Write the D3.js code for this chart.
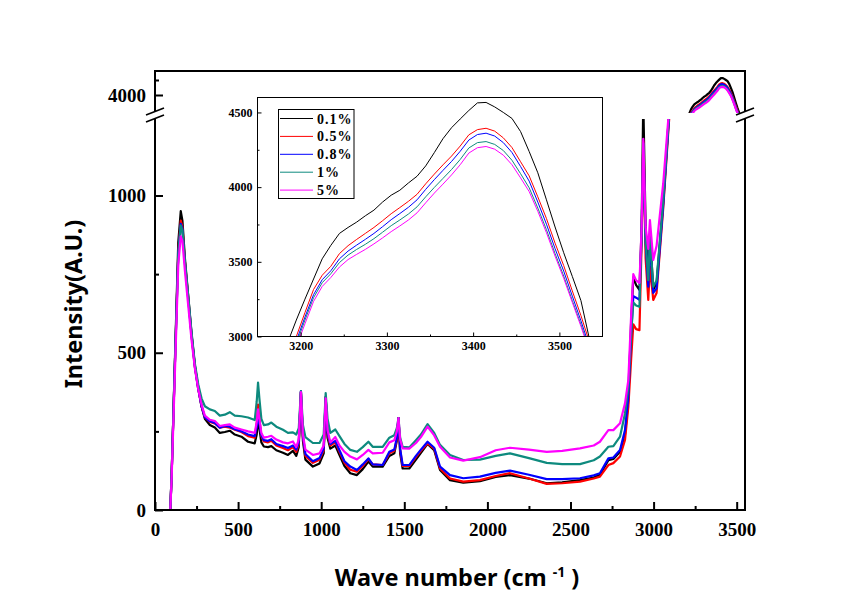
<!DOCTYPE html>
<html><head><meta charset="utf-8">
<script src="https://cdn.jsdelivr.net/npm/d3@7"></script>
<style>body{margin:0;background:#fff}svg{display:block}</style>
</head><body>
<svg id="chart" width="865" height="612"></svg>
<script>
// ---------------- data ----------------
const seriesNames = ["0.1%", "0.5%", "0.8%", "1%", "5%"];
const seriesColors = ["#000000", "#ff0000", "#0000ff", "#0e8a7e", "#ff00ff"];

const xTicksMain = [0, 500, 1000, 1500, 2000, 2500, 3000, 3500];
const yTicksLow = [0, 500, 1000];
const yTicksHigh = [4000];
const xTicksInset = [3200, 3300, 3400, 3500];
const yTicksInset = [3000, 3500, 4000, 4500];

// full spectrum (lower part of the broken axis)
const waveLow = [92,100,120,140,155,165,180,200,220,240,260,280,300,330,360,390,420,450,480,520,560,600,612,620,628,640,655,680,700,730,770,800,830,850,865,878,890,905,950,990,1015,1027,1038,1055,1085,1110,1140,1175,1215,1250,1284,1310,1370,1410,1440,1455,1465,1475,1490,1530,1570,1600,1640,1680,1715,1775,1855,1955,2050,2136,2250,2357,2450,2557,2640,2677,2728,2758,2798,2828,2848,2865,2878,2895,2915,2928,2938,2952,2968,2978,2998,3018,3058,3088,3100];
const low01 = [0,110,480,850,950,920,800,680,560,460,390,330,290,270,262,245,248,252,240,233,217,212,240,290,260,215,202,200,203,190,182,175,188,172,200,375,220,160,138,148,180,355,230,195,205,175,140,117,111,130,154,138,138,172,180,220,292,180,132,132,160,182,210,190,127,95,87,92,105,111,100,85,88,95,103,112,158,162,185,240,350,600,740,715,700,900,1300,900,720,880,700,720,980,1220,1300];
const low05 = [0,110,470,820,920,900,790,675,555,455,385,330,295,280,275,262,265,262,255,248,235,230,275,335,290,235,218,215,220,205,197,190,200,185,210,375,230,172,150,160,190,360,240,205,215,185,150,128,122,140,162,145,143,180,188,225,292,190,140,140,168,188,212,195,132,100,90,95,108,117,100,83,85,90,100,106,143,149,170,223,328,480,590,575,572,850,1170,800,668,774,668,690,960,1200,1290];
const low08 = [0,110,470,815,910,895,785,670,555,455,385,330,295,282,277,262,267,265,257,250,240,235,265,300,275,238,222,220,225,210,203,197,205,192,215,378,235,178,155,165,195,360,245,210,220,190,155,138,127,145,164,145,143,185,192,230,292,195,143,143,172,192,217,198,138,111,101,106,118,125,112,98,98,101,110,117,164,167,191,254,360,560,680,675,668,880,1165,850,710,850,690,705,970,1210,1300];
const low1  = [0,110,470,810,905,890,790,680,565,465,400,355,330,320,315,300,303,311,300,298,294,286,345,405,355,290,270,272,278,265,255,245,247,240,260,378,270,232,213,213,240,372,290,245,256,235,210,191,185,200,217,201,201,230,238,260,292,230,201,199,222,240,273,245,207,175,159,160,172,180,165,150,146,146,158,170,201,203,233,307,392,560,660,650,646,880,1165,860,731,869,710,730,986,1220,1300];
const low5  = [0,100,440,780,870,855,760,650,540,450,385,335,300,287,283,267,270,272,262,256,250,245,280,320,290,245,230,233,236,224,215,212,218,200,225,375,240,192,175,180,205,355,255,215,232,205,185,170,161,175,191,180,182,215,222,250,292,225,196,195,213,232,265,237,201,167,157,168,190,198,192,185,188,196,205,217,254,254,276,339,413,620,750,730,722,900,1180,900,830,922,795,840,1039,1240,1320];

// O-H band (upper part of the broken axis, and the inset)
const waveHigh = [3185,3195,3205,3215,3225,3235,3245,3255,3265,3275,3285,3295,3305,3315,3325,3335,3345,3355,3365,3375,3385,3395,3405,3415,3425,3435,3445,3455,3465,3475,3485,3495,3505,3515,3525,3535,3545];
const high01 = [2960,3110,3250,3385,3520,3610,3690,3730,3766,3808,3846,3900,3946,3979,4028,4073,4142,4231,4324,4398,4456,4513,4564,4567,4537,4500,4460,4372,4238,4096,3915,3733,3561,3402,3240,2980,2800];
const high05 = [2840,3000,3160,3315,3410,3470,3555,3608,3650,3690,3730,3775,3822,3863,3905,3952,4022,4087,4149,4208,4275,4350,4385,4394,4375,4330,4265,4170,4075,3935,3790,3625,3475,3305,3140,2960,2780];
const high08 = [2810,2970,3130,3280,3380,3440,3520,3572,3612,3650,3690,3735,3782,3823,3865,3915,3985,4050,4112,4172,4240,4315,4352,4361,4342,4298,4232,4138,4040,3900,3752,3588,3438,3270,3105,2930,2750];
const high1  = [2790,2950,3110,3260,3360,3420,3495,3545,3583,3617,3655,3698,3742,3780,3820,3868,3935,3998,4058,4118,4185,4262,4298,4305,4286,4245,4180,4090,3995,3860,3715,3555,3405,3240,3080,2905,2730];
const high5  = [2770,2930,3085,3235,3335,3395,3465,3515,3550,3583,3620,3660,3702,3740,3780,3828,3895,3960,4020,4082,4150,4228,4264,4272,4254,4214,4150,4062,3970,3838,3695,3538,3390,3228,3068,2895,2720];

const lowSeries = [low01, low05, low08, low1, low5];
const highSeries = [high01, high05, high08, high1, high5];

// ---------------- drawing ----------------
const svg = d3.select("#chart");
const L = 155, R = 745, T = 71, B = 510;
const x = d3.scaleLinear().domain([0, 3550]).range([L, R]);
const yLow = d3.scaleLinear().domain([0, 1240]).range([B, 120]);
const yHigh = d3.scaleLinear().domain([3400, 4800]).range([113, T]);

const defs = svg.append("defs");
defs.append("clipPath").attr("id", "clipLow").append("rect")
  .attr("x", L).attr("y", 119).attr("width", R - L).attr("height", B - 119);
defs.append("clipPath").attr("id", "clipHigh").append("rect")
  .attr("x", L).attr("y", T).attr("width", R - L).attr("height", 113 - T);

const tickFont = "'Liberation Serif','Times New Roman',serif";

// lines, main
const gLow = svg.append("g").attr("clip-path", "url(#clipLow)");
const gHigh = svg.append("g").attr("clip-path", "url(#clipHigh)");
lowSeries.forEach((s, i) => {
  const line = d3.line().x((d, j) => x(waveLow[j])).y(d => yLow(d));
  gLow.append("path").datum(s).attr("d", line).attr("fill", "none")
    .attr("stroke", seriesColors[i]).attr("stroke-width", 2.2).attr("stroke-linejoin", "round");
});
highSeries.forEach((s, i) => {
  const line = d3.line().x((d, j) => x(waveHigh[j])).y(d => yHigh(d));
  gHigh.append("path").datum(s).attr("d", line).attr("fill", "none")
    .attr("stroke", seriesColors[i]).attr("stroke-width", 2.2).attr("stroke-linejoin", "round");
});

// axes helper
function styleAxis(g, size) {
  g.select(".domain").remove();
  g.selectAll(".tick line").attr("stroke", "#000").attr("stroke-width", 2);
  g.selectAll(".tick text").attr("font-family", tickFont).attr("font-weight", "bold")
    .attr("font-size", size).attr("fill", "#000");
}

// x axis
const gx = svg.append("g").attr("transform", `translate(0,${B})`)
  .call(d3.axisBottom(x).tickValues(xTicksMain).tickSize(-8).tickPadding(8).tickFormat(d3.format("d")));
styleAxis(gx, 19);
gx.selectAll(".tick text").attr("dy", "0.95em");
const gxm = svg.append("g").attr("transform", `translate(0,${B})`)
  .call(d3.axisBottom(x).tickValues(d3.range(250, 3500, 500)).tickSize(-4).tickFormat(""));
styleAxis(gxm, 19);

// y axis lower
const gyl = svg.append("g").attr("transform", `translate(${L},0)`)
  .call(d3.axisLeft(yLow).tickValues(yTicksLow).tickSize(-8).tickPadding(9).tickFormat(d3.format("d")));
styleAxis(gyl, 19);
const gylm = svg.append("g").attr("transform", `translate(${L},0)`)
  .call(d3.axisLeft(yLow).tickValues([250, 750]).tickSize(-4).tickFormat(""));
styleAxis(gylm, 19);
// y axis upper
const gyh = svg.append("g").attr("transform", `translate(${L},0)`)
  .call(d3.axisLeft(yHigh).tickValues(yTicksHigh).tickSize(-8).tickPadding(9).tickFormat(d3.format("d")));
styleAxis(gyh, 19);
const gyhm = svg.append("g").attr("transform", `translate(${L},0)`)
  .call(d3.axisLeft(yHigh).tickValues([4500]).tickSize(-4).tickFormat(""));
styleAxis(gyhm, 19);

// frame with breaks
const frame = svg.append("g").attr("stroke", "#000").attr("stroke-width", 2).attr("fill", "none");
frame.append("line").attr("x1", L).attr("y1", B).attr("x2", R).attr("y2", B);
frame.append("line").attr("x1", L - 1).attr("y1", T).attr("x2", R + 1).attr("y2", T);
[L, R].forEach(ax => {
  frame.append("line").attr("x1", ax).attr("y1", T).attr("x2", ax).attr("y2", 111);
  frame.append("line").attr("x1", ax).attr("y1", 119).attr("x2", ax).attr("y2", B + 1);
  frame.append("line").attr("x1", ax - 9).attr("y1", 115).attr("x2", ax + 9).attr("y2", 108).attr("stroke-width", 1.6);
  frame.append("line").attr("x1", ax - 9).attr("y1", 122).attr("x2", ax + 9).attr("y2", 115).attr("stroke-width", 1.6);
});

// axis titles
const titleFont = "'Noto Sans','DejaVu Sans',sans-serif";
const xt = svg.append("text").attr("x", 457).attr("y", 586).attr("text-anchor", "middle")
  .attr("font-family", titleFont).attr("font-weight", "bold").attr("font-size", 23.5).attr("fill", "#000");
xt.append("tspan").text("Wave number (cm ");
xt.append("tspan").attr("dy", -9).attr("font-size", 14).text("-1");
xt.append("tspan").attr("dy", 9).text(" )");
svg.append("text").attr("transform", "translate(82,304) rotate(-90)").attr("text-anchor", "middle")
  .attr("font-family", titleFont).attr("font-weight", "bold").attr("font-size", 23.5).attr("fill", "#000")
  .text("Intensity(A.U.)");

// ---------------- inset ----------------
const IL = 257.5, IR = 602.5, IT = 97.5, IB = 336.5;
const ix = d3.scaleLinear().domain([3150, 3550]).range([IL, IR]);
const iy = d3.scaleLinear().domain([3000, 4600]).range([IB, IT]);
svg.append("rect").attr("x", IL).attr("y", IT).attr("width", IR - IL).attr("height", IB - IT)
  .attr("fill", "#fff");
defs.append("clipPath").attr("id", "clipInset").append("rect")
  .attr("x", IL).attr("y", IT).attr("width", IR - IL).attr("height", IB - IT);
const gIn = svg.append("g").attr("clip-path", "url(#clipInset)");
highSeries.forEach((s, i) => {
  const line = d3.line().x((d, j) => ix(waveHigh[j])).y(d => iy(d));
  gIn.append("path").datum(s).attr("d", line).attr("fill", "none")
    .attr("stroke", seriesColors[i]).attr("stroke-width", 1);
});
function styleInset(g) {
  g.select(".domain").remove();
  g.selectAll(".tick line").attr("stroke", "#000").attr("stroke-width", 1);
  g.selectAll(".tick text").attr("font-family", tickFont).attr("font-weight", "bold")
    .attr("font-size", 12).attr("fill", "#000");
}
const gix = svg.append("g").attr("transform", `translate(0,${IB})`)
  .call(d3.axisBottom(ix).tickValues(xTicksInset).tickSize(-4).tickPadding(5).tickFormat(d3.format("d")));
styleInset(gix);
const gixm = svg.append("g").attr("transform", `translate(0,${IB})`)
  .call(d3.axisBottom(ix).tickValues([3250, 3350, 3450]).tickSize(-2).tickFormat(""));
styleInset(gixm);
const giy = svg.append("g").attr("transform", `translate(${IL},0)`)
  .call(d3.axisLeft(iy).tickValues(yTicksInset).tickSize(-4).tickPadding(5).tickFormat(d3.format("d")));
styleInset(giy);
const giym = svg.append("g").attr("transform", `translate(${IL},0)`)
  .call(d3.axisLeft(iy).tickValues([3250, 3750, 4250]).tickSize(-2).tickFormat(""));
styleInset(giym);
svg.append("rect").attr("x", IL).attr("y", IT).attr("width", IR - IL).attr("height", IB - IT)
  .attr("fill", "none").attr("stroke", "#000").attr("stroke-width", 1);

// legend
const lg = svg.append("g");
lg.append("rect").attr("x", 278.5).attr("y", 109.5).attr("width", 75.5).attr("height", 89)
  .attr("fill", "#fff").attr("stroke", "#000").attr("stroke-width", 1);
seriesNames.forEach((n, i) => {
  const yy = 118.5 + i * 17.9;
  lg.append("line").attr("x1", 280).attr("x2", 313).attr("y1", yy).attr("y2", yy)
    .attr("stroke", seriesColors[i]).attr("stroke-width", 1);
  lg.append("text").attr("x", 317).attr("y", yy + 5).attr("font-family", tickFont)
    .attr("font-weight", "bold").attr("font-size", 14).attr("letter-spacing", 1).attr("fill", "#000").text(n);
});
</script>
</body></html>
